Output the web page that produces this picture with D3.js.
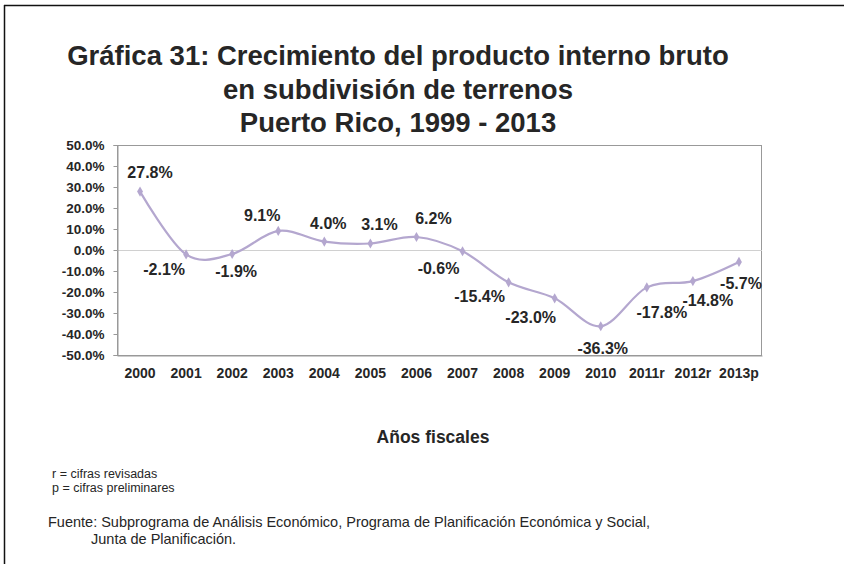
<!DOCTYPE html>
<html><head><meta charset="utf-8">
<script src="https://cdn.jsdelivr.net/npm/d3@7"></script>
<style>
html,body{margin:0;padding:0;background:#fff;}
svg{display:block;font-family:"Liberation Sans",Arial,sans-serif;}
</style></head>
<body>
<script>
const categories = ["2000","2001","2002","2003","2004","2005","2006","2007","2008","2009","2010","2011r","2012r","2013p"];
const growth = [27.8, -2.1, -1.9, 9.1, 4.0, 3.1, 6.2, -0.6, -15.4, -23.0, -36.3, -17.8, -14.8, -5.7];
const yTicks = [50,40,30,20,10,0,-10,-20,-30,-40,-50];
const titleLines = ["Gráfica 31: Crecimiento del producto interno bruto","en subdivisión de terrenos","Puerto Rico, 1999 - 2013"];
const xTitle = "Años fiscales";
const notes = ["r = cifras revisadas","p = cifras preliminares"];
const source = ["Fuente: Subprograma de Análisis Económico, Programa de Planificación Económica y Social,","Junta de Planificación."];
// label placement offsets (layout): [dx, dy] from point to label center
const labelOffsets = [[10,-19],[-22,15],[4,17],[-16,-15],[4,-18],[9,-19],[17,-19],[-24,17],[-29,14],[-24,19],[2,22],[15,25],[15,19],[2,21]];

const W = 844, H = 564;
const svg = d3.select("body").append("svg").attr("width", W).attr("height", H);
const ink = "#262626";

// outer frame (top + left lines)
svg.append("line").attr("x1",4).attr("x2",W).attr("y1",5.5).attr("y2",5.5).attr("stroke","#111").attr("stroke-width",1.5);
svg.append("line").attr("x1",4.5).attr("x2",4.5).attr("y1",5).attr("y2",H).attr("stroke","#111").attr("stroke-width",1.5);

// title
const title = svg.append("text").attr("text-anchor","middle").attr("font-weight","bold").attr("font-size",27.5).attr("fill",ink);
titleLines.forEach((t,i)=>title.append("tspan").attr("x",398).attr("y",65+i*33.5).text(t));

const L = 117, R = 762, T = 145, B = 355;
const x = d3.scaleBand().domain(categories).range([L,R]);
const y = d3.scaleLinear().domain([-50,50]).range([B,T]);

// plot frame
svg.append("rect").attr("x",L+0.5).attr("y",T+0.5).attr("width",R-L-1).attr("height",B-T).attr("fill","none").attr("stroke","#999").attr("stroke-width",1);
// zero gridline
svg.append("line").attr("x1",L).attr("x2",R).attr("y1",Math.round(y(0))+0.5).attr("y2",Math.round(y(0))+0.5).attr("stroke","#d0d0d0");

// y axis
const ya = svg.append("g").attr("transform",`translate(${L+0.5},0)`)
  .call(d3.axisLeft(y).tickValues(yTicks).tickSize(4).tickPadding(9).tickFormat(d=>d.toFixed(1)+"%"));
ya.select(".domain").attr("stroke","#999");
ya.selectAll(".tick line").attr("stroke","#999");
ya.selectAll("text").attr("font-family","Liberation Sans, Arial, sans-serif").attr("font-weight","bold").attr("font-size",13.5).attr("fill",ink);

// x axis
const xa = svg.append("g").attr("transform",`translate(0,${B+0.5})`)
  .call(d3.axisBottom(x).tickSize(0).tickPadding(13));
xa.select(".domain").attr("stroke","#999");
xa.selectAll("text").attr("font-family","Liberation Sans, Arial, sans-serif").attr("font-weight","bold").attr("font-size",14).attr("fill",ink);

// line
const cx = (d,i)=>x(categories[i])+x.bandwidth()/2;
const line = d3.line().x((d,i)=>cx(d,i)).y(d=>y(d)).curve(d3.curveCardinal.tension(0));
svg.append("path").datum(growth).attr("d",line).attr("fill","none").attr("stroke","#b4a7cf").attr("stroke-width",2.2);

// markers (diamonds)
svg.selectAll("path.mk").data(growth).join("path").attr("class","mk")
  .attr("d",d3.symbol().type(d3.symbolDiamond).size(30))
  .attr("transform",(d,i)=>`translate(${cx(d,i)},${y(d)})`)
  .attr("fill","#b4a7cf");

// data labels
svg.selectAll("text.lbl").data(growth).join("text").attr("class","lbl")
  .attr("x",(d,i)=>cx(d,i)+labelOffsets[i][0])
  .attr("y",(d,i)=>y(d)+labelOffsets[i][1])
  .attr("dy","0.35em").attr("text-anchor","middle")
  .attr("font-weight","bold").attr("font-size",16).attr("fill",ink)
  .text(d=>d.toFixed(1)+"%");

// axis title
svg.append("text").attr("x",433).attr("y",443).attr("text-anchor","middle").attr("font-weight","bold").attr("font-size",17.5).attr("fill",ink).text(xTitle);

// notes
notes.forEach((t,i)=>svg.append("text").attr("x",52).attr("y",478+i*13.5).attr("font-size",12.5).attr("fill",ink).text(t));
svg.append("text").attr("x",48).attr("y",527).attr("font-size",14.5).attr("fill",ink).text(source[0]);
svg.append("text").attr("x",91).attr("y",544).attr("font-size",14.5).attr("fill",ink).text(source[1]);
</script>
</body></html>
